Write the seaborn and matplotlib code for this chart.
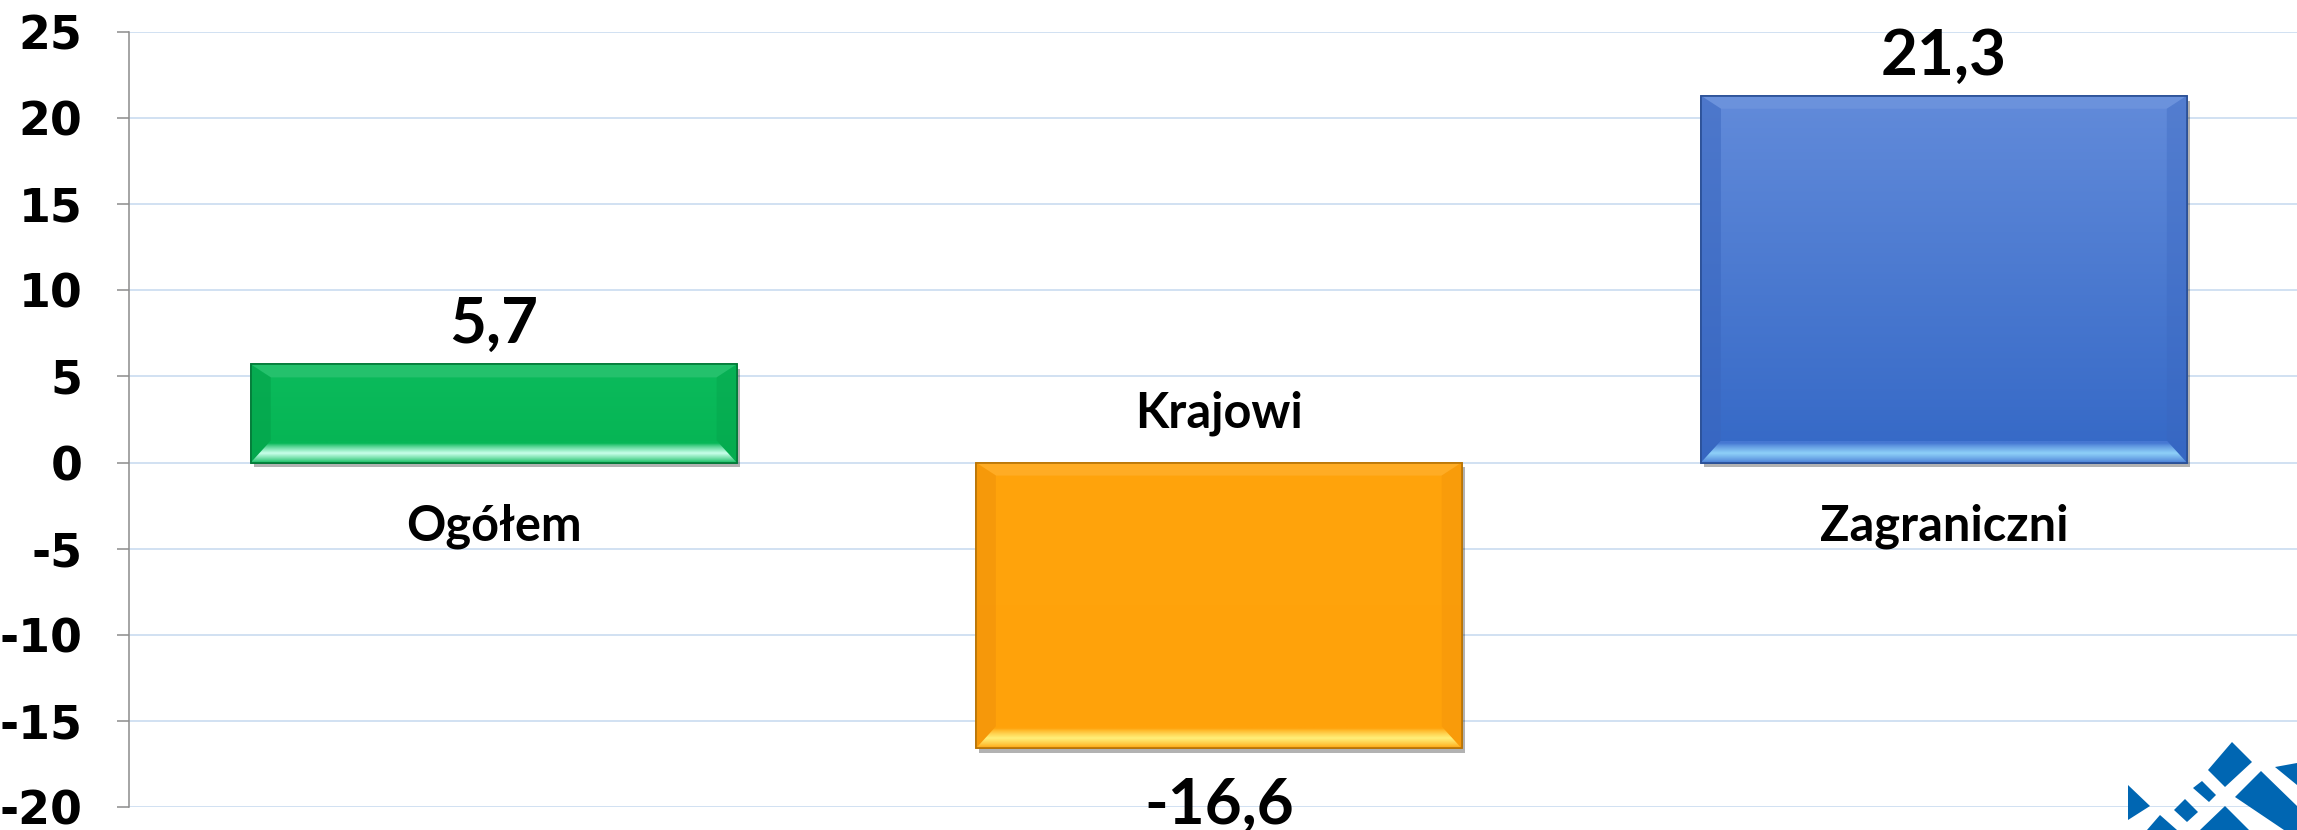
import numpy as np
import pandas as pd
import matplotlib
matplotlib.use("Agg")
import matplotlib.pyplot as plt
import matplotlib.patheffects as pe
from matplotlib.patches import Polygon
from matplotlib.colors import to_rgb
import seaborn as sns

# --- data -------------------------------------------------------------
categories = ["Ogółem", "Krajowi", "Zagraniczni"]
values = [5.7, -16.6, 21.3]
value_labels = ["5,7", "-16,6", "21,3"]
y_ticks = [-20, -15, -10, -5, 0, 5, 10, 15, 20, 25]
y_tick_labels = ["-20", "-15", "-10", "-5", "0", "5", "10", "15", "20", "25"]

# --- styling ----------------------------------------------------------
bar_colors = ["#07B757", "#FFA30C", "#4678D3"]
grad_top = ["#0BBB5C", "#FFA40C", "#628BDA"]
grad_bottom = ["#05B453", "#FFA20A", "#3468C6"]
bevel_top = ["#30C474", "#FFB030", "#7096DE"]
bevel_bottom = ["#C8FFEA", "#FFF07A", "#8ED0F8"]
bevel_side = ["#049E48", "#EE900A", "#3A66BE"]
edge_colors = ["#037A38", "#B87406", "#2A4F96"]

sns.set_theme(style="white")
plt.rcParams["font.family"] = ["Lato", "DejaVu Sans"]
plt.rcParams["axes.unicode_minus"] = False

W, H = 2297, 830
fig = plt.figure(figsize=(W / 100, H / 100), dpi=100)
ax = fig.add_axes([129 / W, 23 / H, 1 - 129 / W, 775 / H])

df = pd.DataFrame({"kategoria": categories, "wartosc": values})
sns.barplot(data=df, x="kategoria", y="wartosc", hue="kategoria",
            palette=bar_colors, width=0.67, saturation=1, legend=False, ax=ax)

ax.set_xlim(-0.503, 2.487)
ax.set_ylim(-20, 25)
ax.set_yticks(y_ticks)
ax.set_yticklabels(y_tick_labels, fontfamily="DejaVu Sans", fontweight="bold",
                   fontsize=33, color="black")
ax.set_xticks([])
ax.set_xlabel("")
ax.set_ylabel("")
ax.yaxis.grid(True, color="#C5D9EF", linewidth=1.1)
ax.set_axisbelow(True)
for s in ["top", "right", "bottom"]:
    ax.spines[s].set_visible(False)
ax.spines["left"].set_color("#8C8C8C")
ax.spines["left"].set_linewidth(1.1)
ax.tick_params(axis="y", length=8.6, width=1.1, color="#8C8C8C", pad=25, left=True)

# pixel -> data conversion for bevel sizes
ax_w_px = W - 129
ax_h_px = 775
px_x = (2.487 + 0.503) / ax_w_px
px_y = 45.0 / ax_h_px

bars = [p for p in ax.patches][:len(values)]
for i, patch in enumerate(bars):
    x0 = patch.get_x()
    w = patch.get_width()
    y0 = patch.get_y()
    h = patch.get_height()
    x1 = x0 + w
    yb, yt = min(y0, y0 + h), max(y0, y0 + h)

    patch.set_edgecolor(edge_colors[i])
    patch.set_linewidth(1.2)
    patch.set_path_effects([pe.SimplePatchShadow(offset=(2.5, -3.5), shadow_rgbFace="black", alpha=0.3),
                            pe.Normal()])

    # vertical gradient fill clipped to the bar
    c_top = np.array(to_rgb(grad_top[i]))
    c_bot = np.array(to_rgb(grad_bottom[i]))
    t = np.linspace(0, 1, 256)[:, None]
    grad = (c_top[None, :] * (1 - t) + c_bot[None, :] * t)[:, None, :]
    im = ax.imshow(grad, extent=[x0, x1, yb, yt], origin="upper", aspect="auto",
                   zorder=patch.get_zorder() + 0.1, interpolation="bilinear")
    im.set_clip_path(patch)

    bx = 20 * px_x
    bt = 13 * px_y
    bb = 22 * px_y
    z = patch.get_zorder() + 0.2
    top = Polygon([(x0, yt), (x1, yt), (x1 - bx, yt - bt), (x0 + bx, yt - bt)],
                  closed=True, facecolor=bevel_top[i], edgecolor="none", alpha=0.7, zorder=z)
    left = Polygon([(x0, yb), (x0 + bx, yb + bb), (x0 + bx, yt - bt), (x0, yt)],
                   closed=True, facecolor=bevel_side[i], edgecolor="none", alpha=0.5, zorder=z)
    right = Polygon([(x1, yb), (x1 - bx, yb + bb), (x1 - bx, yt - bt), (x1, yt)],
                    closed=True, facecolor=bevel_side[i], edgecolor="none", alpha=0.35, zorder=z)
    for poly in (top, left, right):
        ax.add_patch(poly)

    # bottom bevel: gradient highlight band clipped to a trapezoid
    bottom = Polygon([(x0, yb), (x1, yb), (x1 - bx, yb + bb), (x0 + bx, yb + bb)],
                     closed=True, facecolor="none", edgecolor="none", zorder=z)
    ax.add_patch(bottom)
    c_hi = np.array(to_rgb(bevel_bottom[i]))
    c_b = np.array(to_rgb(bar_colors[i]))
    s = np.linspace(0, 1, 64)
    prof = np.clip(1 - np.abs(s - 0.45) / 0.45, 0, 1) ** 0.8
    band = (c_b[None, :] * (1 - prof[:, None]) + c_hi[None, :] * prof[:, None])[:, None, :]
    bim = ax.imshow(band, extent=[x0, x1, yb, yb + bb], origin="lower", aspect="auto",
                    zorder=z + 0.01, interpolation="bilinear")
    bim.set_clip_path(bottom)

    # crisp outline on top of everything
    outline = Polygon([(x0, yb), (x1, yb), (x1, yt), (x0, yt)], closed=True,
                      facecolor="none", edgecolor=edge_colors[i], linewidth=1.2, zorder=z + 0.1)
    ax.add_patch(outline)

# value labels and category labels next to the zero line
for i, (v, lab, cat) in enumerate(zip(values, value_labels, categories)):
    off = 21 if v >= 0 else -75
    ax.annotate(lab, (i, v), xytext=(0, off), textcoords="offset pixels",
                ha="center", va="baseline",
                fontsize=46, fontweight="bold", color="black", annotation_clip=False,
                zorder=10)
    coff = -78 if v >= 0 else 35
    ax.annotate(cat, (i, 0), xytext=(0, coff), textcoords="offset pixels",
                ha="center", va="baseline", fontsize=35, fontweight="bold",
                color="black", annotation_clip=False, zorder=10)

# institutional logo fragment in the lower-right corner
logo_shapes = [
    [(2128, 785), (2150, 806), (2128, 820)],
    [(2232, 742), (2252, 762), (2225, 787), (2208, 770)],
    [(2202, 781), (2216, 795), (2209, 802), (2193, 788)],
    [(2185, 799), (2198, 812), (2187, 822), (2174, 810)],
    [(2261, 771), (2297, 806), (2297, 830), (2284, 830), (2235, 797)],
    [(2275, 767), (2297, 763), (2297, 785)],
    [(2160, 815), (2177, 830), (2147, 830)],
    [(2225, 806), (2249, 830), (2200, 830)],
]
for shape in logo_shapes:
    pts = [(x / W, 1 - y / H) for x, y in shape]
    fig.add_artist(Polygon(pts, closed=True, facecolor="#0066B2", edgecolor="none",
                           transform=fig.transFigure, zorder=20))

fig.savefig("out.png", dpi=100)
